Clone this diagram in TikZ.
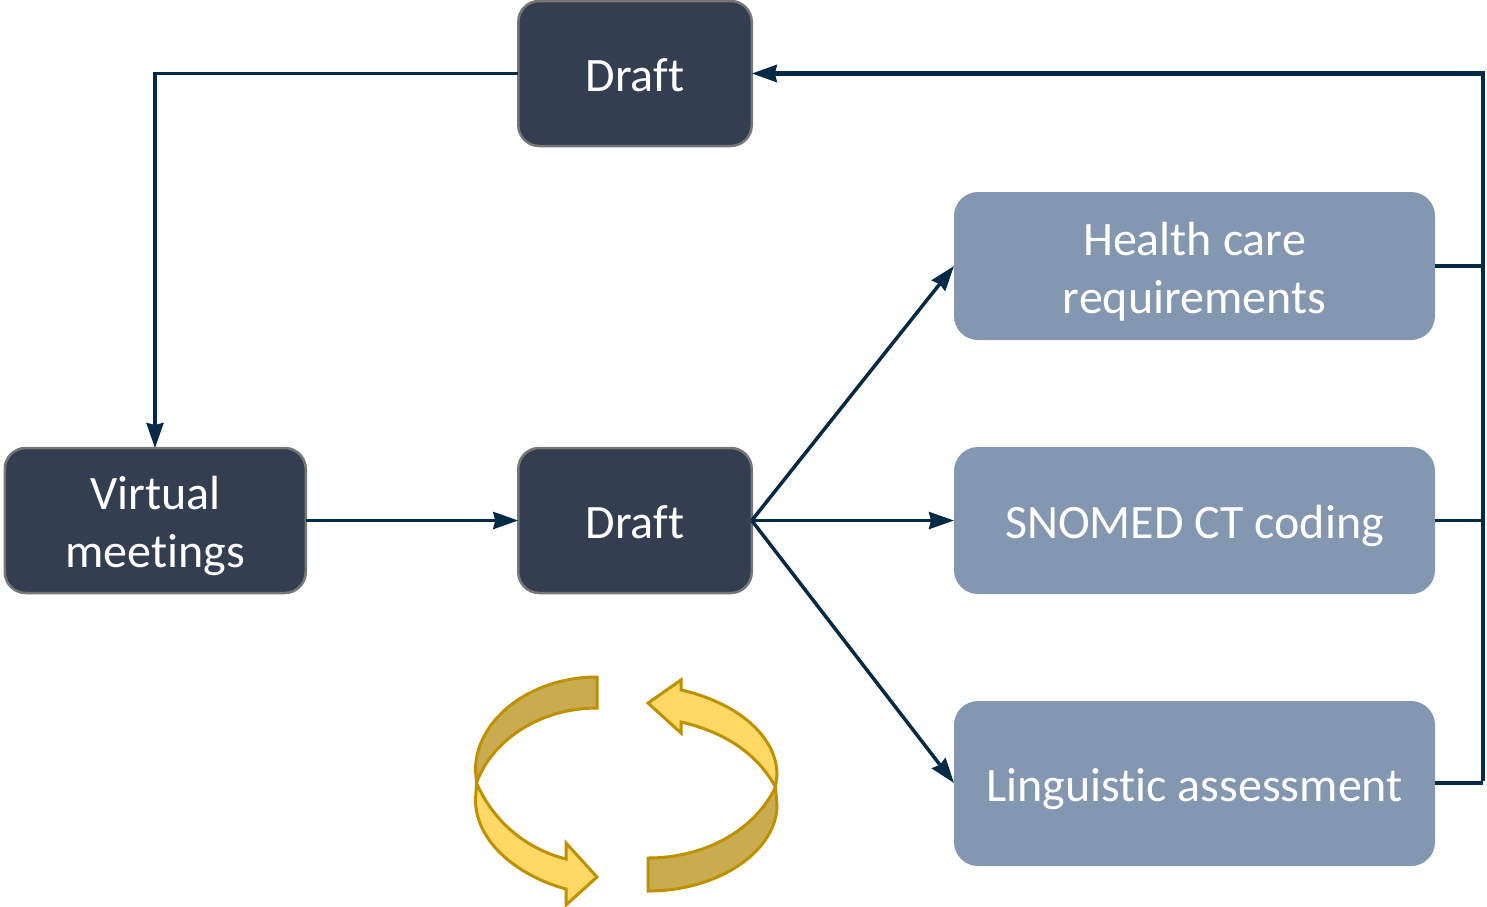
\documentclass[tikz,border=0pt]{standalone}
\usepackage{fontspec}
\setmainfont[Ligatures=CommonOff]{Carlito}
\usetikzlibrary{arrows.meta,positioning}
\definecolor{linecol}{HTML}{042A45}
\definecolor{darkfill}{HTML}{333F50}
\definecolor{darkedge}{HTML}{767676}
\definecolor{bluefill}{HTML}{8497B0}
\definecolor{ribbonlight}{HTML}{FFD966}
\definecolor{ribbondark}{HTML}{C9AC50}
\definecolor{ribbonedge}{HTML}{BF9000}
\begin{document}
\begin{tikzpicture}[
  x=1pt,y=-1pt,
  darkbox/.style={draw=darkedge,line width=2.5pt,fill=darkfill,rounded corners=21pt,minimum height=145pt,
    outer sep=0pt,inner sep=0pt,align=center,text=white,font=\fontsize{48}{58}\selectfont},
  bluebox/.style={fill=bluefill,rounded corners=24pt,minimum width=481pt,
    outer sep=0pt,inner sep=0pt,align=center,text=white,font=\fontsize{48}{58}\selectfont},
  oneline/.style={execute at begin node={\rule[-12pt]{0pt}{60pt}}},
  twoline/.style={text height=100pt,text depth=6pt},
  arr/.style={-{Stealth[length=25pt,width=17pt,inset=2pt]},draw=linecol,line width=3.5pt},
  link/.style={draw=linecol,line width=3.5pt},
  ribbon/.style={draw=ribbonedge,line width=3pt,line join=miter}
]
\useasboundingbox (0,0) rectangle (1487,906);
\node[darkbox,oneline,minimum width=233.5pt] (drafttop) at (635,73.5) {Draft};
\node[darkbox,oneline,minimum width=233.5pt,below=302pt of drafttop] (draftmid) {Draft};
\node[darkbox,twoline,minimum width=301pt,left=212.5pt of draftmid] (virtual) {Virtual\\meetings};
\node[bluebox,twoline,minimum height=148pt] (health) at (1194.5,266) {Health care\\requirements};
\node[bluebox,oneline,minimum height=147pt,below=107pt of health] (snomed) {SNOMED CT coding};
\node[bluebox,oneline,minimum height=165pt,below=107pt of snomed] (ling) {Linguistic assessment};
\coordinate (corner) at (1483,73.5);
\coordinate (bend) at (155,73.5);
\coordinate (lingout) at (1483,783);
% feedback from the three reviews
\draw[link] (ling.east |- lingout) -- (lingout);
\draw[link] (health.east) -- (health.east -| corner);
\draw[link] (snomed.east |- draftmid.east) -- (draftmid.east -| corner);
\draw[arr,line width=4.5pt] ([yshift=2pt]lingout) -- (corner) -- (drafttop.east);
% main loop
\draw[arr] (drafttop.west) -- (bend) -- (virtual.north -| bend);
\draw[arr] (virtual.east |- draftmid.east) -- (draftmid.west);
\draw[arr] (draftmid.east) -- (health.west);
\draw[arr] (draftmid.east) -- (snomed.west |- draftmid.east);
\draw[arr] (draftmid.east) -- (ling.west |- lingout);
% circular ribbons
\draw[ribbon,fill=ribbonlight] (476.5,783) .. controls (495,825) and (530,850) .. (566,859) -- (566,843)
  -- (597,877) -- (566,905) -- (566,889) .. controls (515,875) and (475.5,840) .. (475.5,800) -- cycle;
\draw[ribbon,fill=ribbondark] (597,677) .. controls (530,677) and (475.5,720) .. (475.5,770) -- (476.5,783)
  .. controls (492,740) and (540,708) .. (597,708) -- cycle;
\draw[ribbon,fill=ribbonlight] (775.5,787) .. controls (755,750) and (720,731) .. (681,722) -- (681,733)
  -- (648,703) -- (681,680) -- (681,690) .. controls (735,702) and (777,735) .. (777,775) -- cycle;
\draw[ribbon,fill=ribbondark] (648,891) .. controls (720,891) and (777,850) .. (777,805) -- (775.5,787)
  .. controls (755,830) and (705,858) .. (648,858) -- cycle;
\end{tikzpicture}
\end{document}
